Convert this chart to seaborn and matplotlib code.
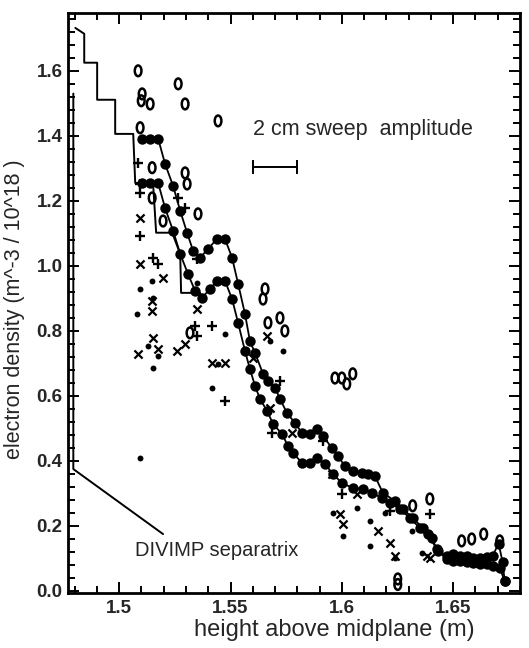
import matplotlib
matplotlib.use("Agg")
import matplotlib.pyplot as plt
import matplotlib.transforms as mtransforms
import seaborn as sns
from matplotlib.path import Path
from matplotlib.ticker import AutoMinorLocator, FixedLocator

# ---------- data ----------
upper_x = [1.5103, 1.5139, 1.5175, 1.5206, 1.5242, 1.5274, 1.5305, 1.5332, 1.5363, 1.5399,
           1.5439, 1.5475, 1.5507, 1.5534, 1.5565, 1.5587, 1.5610, 1.5646, 1.5668, 1.5700,
           1.5722, 1.5753, 1.5789, 1.5821, 1.5857, 1.5888, 1.5915, 1.5955, 1.5982, 1.6013,
           1.6049, 1.6090, 1.6117, 1.6148, 1.6184, 1.6238, 1.6274, 1.6318, 1.6363, 1.6404,
           1.6430, 1.6471, 1.6498, 1.6529, 1.6561, 1.6587, 1.6619, 1.6650, 1.6677, 1.6704,
           1.6722, 1.6731]
upper_y = [1.391, 1.391, 1.391, 1.314, 1.246, 1.169, 1.102, 1.046, 1.025, 1.052,
           1.083, 1.083, 1.025, 0.945, 0.852, 0.769, 0.732, 0.668, 0.646, 0.625,
           0.591, 0.548, 0.517, 0.486, 0.483, 0.498, 0.477, 0.440, 0.415, 0.385,
           0.369, 0.363, 0.360, 0.354, 0.302, 0.277, 0.252, 0.225, 0.194, 0.163,
           0.123, 0.108, 0.114, 0.108, 0.108, 0.102, 0.102, 0.105, 0.108, 0.146,
           0.088, 0.031]

lower_x = [1.5103, 1.5139, 1.5175, 1.5206, 1.5242, 1.5274, 1.5309, 1.5341, 1.5372, 1.5408,
           1.5439, 1.5475, 1.5507, 1.5534, 1.5565, 1.5587, 1.5610, 1.5632, 1.5664, 1.5691,
           1.5731, 1.5758, 1.5780, 1.5821, 1.5857, 1.5888, 1.5924, 1.5960, 1.6000, 1.6049,
           1.6094, 1.6135, 1.6179, 1.6215, 1.6260, 1.6305, 1.6350, 1.6386, 1.6426, 1.6471,
           1.6498, 1.6529, 1.6561, 1.6587, 1.6619, 1.6650, 1.6677, 1.6709, 1.6731]
lower_y = [1.255, 1.255, 1.255, 1.178, 1.108, 1.037, 0.975, 0.923, 0.902, 0.929,
           0.954, 0.954, 0.898, 0.825, 0.738, 0.683, 0.631, 0.591, 0.554, 0.514,
           0.483, 0.446, 0.425, 0.394, 0.394, 0.409, 0.391, 0.360, 0.332, 0.317,
           0.314, 0.302, 0.286, 0.271, 0.252, 0.225, 0.194, 0.175, 0.129, 0.098,
           0.092, 0.092, 0.089, 0.086, 0.083, 0.083, 0.077, 0.071, 0.031]

step_x = [1.4803, 1.4843, 1.4843, 1.4901, 1.4901, 1.4982, 1.4982, 1.5063, 1.5072, 1.5152,
          1.5166, 1.5238, 1.5274, 1.5278, 1.5363, 1.5372]
step_y = [1.732, 1.714, 1.625, 1.625, 1.511, 1.511, 1.406, 1.406, 1.255, 1.255,
          1.102, 1.102, 1.037, 0.917, 0.917, 0.902]

sep_x = [1.4794, 1.4794, 1.5197]
sep_y = [1.530, 0.375, 0.175]

circ_x = [1.5085, 1.5265, 1.5103, 1.5099, 1.5139, 1.5296, 1.5444, 1.5094, 1.5148, 1.5148,
          1.5197, 1.5296, 1.5305, 1.5354, 1.5318, 1.5655, 1.5646, 1.5668, 1.5722, 1.5744,
          1.5969, 1.6000, 1.6022, 1.6049, 1.6395, 1.6318, 1.6538, 1.6583, 1.6637, 1.6709,
          1.6251, 1.6251]
circ_y = [1.600, 1.560, 1.529, 1.508, 1.498, 1.498, 1.446, 1.425, 1.302, 1.209,
          1.138, 1.286, 1.252, 1.160, 0.794, 0.929, 0.898, 0.825, 0.840, 0.800,
          0.655, 0.655, 0.637, 0.668, 0.283, 0.262, 0.154, 0.160, 0.175, 0.154,
          0.037, 0.020]

plus_x = [1.5085, 1.5094, 1.5094, 1.5094, 1.5152, 1.5175, 1.5265, 1.5296, 1.5341, 1.5350,
          1.5417, 1.5350, 1.5722, 1.5475, 1.5686, 1.6000, 1.6215, 1.6395, 1.5915]
plus_y = [1.317, 1.252, 1.225, 1.092, 1.025, 1.006, 1.209, 1.178, 0.815, 0.785,
          0.815, 1.022, 0.646, 0.585, 0.486, 0.298, 0.246, 0.237, 0.462]

cross_x = [1.5094, 1.5094, 1.5197, 1.5148, 1.5148, 1.5152, 1.5175, 1.5085, 1.5260, 1.5296,
           1.5350, 1.5417, 1.5475, 1.5664, 1.5601, 1.5677, 1.5776, 1.5955, 1.5991, 1.6004,
           1.6067, 1.6161, 1.6215, 1.6238, 1.6381, 1.6395]
cross_y = [1.148, 1.006, 0.963, 0.892, 0.862, 0.778, 0.745, 0.729, 0.738, 0.760,
           0.868, 0.702, 0.702, 0.785, 0.717, 0.563, 0.486, 0.360, 0.237, 0.206,
           0.298, 0.185, 0.148, 0.108, 0.108, 0.102]

dot_x = [1.5094, 1.5081, 1.5148, 1.5152, 1.5130, 1.5175, 1.5152, 1.5350, 1.5475, 1.5444,
         1.5417, 1.5094, 1.5677, 1.5735, 1.5960, 1.6004, 1.6067, 1.6126, 1.6126, 1.6193,
         1.6238, 1.6314, 1.6359]
dot_y = [0.929, 0.852, 0.954, 0.902, 0.754, 0.723, 0.686, 0.948, 0.791, 0.698,
         0.625, 0.409, 0.769, 0.738, 0.240, 0.169, 0.255, 0.215, 0.138, 0.240,
         0.102, 0.185, 0.117]

sweep_center, sweep_half, sweep_level = 1.570, 0.010, 1.305

x_ticks = [1.5, 1.55, 1.6, 1.65]
x_labels = ["1.5", "1.55", "1.6", "1.65"]
y_ticks = [0.0, 0.2, 0.4, 0.6, 0.8, 1.0, 1.2, 1.4, 1.6]

# ---------- figure ----------
sns.set_style("ticks")
plt.rcParams["font.family"] = ["Liberation Sans", "DejaVu Sans"]

fig = plt.figure(figsize=(5.29, 6.48), dpi=100)
ax = fig.add_axes([0.1285, 0.085, 0.8545, 0.895])

line_kw = dict(sort=False, estimator=None, color="k", ax=ax)
sns.lineplot(x=step_x, y=step_y, lw=1.4, **line_kw)
sns.lineplot(x=sep_x, y=sep_y, lw=1.4, **line_kw)
for cx, cy in [(upper_x, upper_y), (lower_x, lower_y)]:
    sns.lineplot(x=cx, y=cy, lw=1.3, marker="o", markersize=7.5,
                 markeredgecolor="k", markeredgewidth=0, **line_kw)

oval = Path.unit_circle().transformed(mtransforms.Affine2D().scale(0.62, 1.0))
sns.scatterplot(x=circ_x, y=circ_y, marker=oval, s=60, facecolor="none",
                edgecolor="k", linewidth=1.8, ax=ax)
sns.scatterplot(x=plus_x, y=plus_y, marker="+", s=42, color="k", linewidth=1.7, ax=ax)
sns.scatterplot(x=cross_x, y=cross_y, marker="x", s=34, color="k", linewidth=1.6, ax=ax)
sns.scatterplot(x=dot_x, y=dot_y, marker="o", s=18, color="k", linewidth=0, ax=ax)

ax.errorbar(sweep_center, sweep_level, xerr=sweep_half, color="k", lw=1.4,
            capsize=5, capthick=1.4)
ax.text(1.5600, 1.42, "2 cm sweep  amplitude", fontsize=15.5, va="center", ha="left")
ax.text(1.5072, 0.126, "DIVIMP separatrix", fontsize=14.5, va="center", ha="left")

ax.set_xlim(1.477, 1.680)
ax.set_ylim(-0.006, 1.778)
ax.xaxis.set_major_locator(FixedLocator(x_ticks))
ax.set_xticklabels(x_labels)
ax.yaxis.set_major_locator(FixedLocator(y_ticks))
ax.set_yticklabels([f"{v:.1f}" for v in y_ticks])
ax.xaxis.set_minor_locator(AutoMinorLocator(5))
ax.yaxis.set_minor_locator(AutoMinorLocator(5))
ax.tick_params(which="both", direction="in", top=True, right=True, color="k", width=1.4)
ax.tick_params(which="major", length=8)
ax.tick_params(which="minor", length=5)
ax.tick_params(axis="x", pad=5)
ax.tick_params(axis="y", pad=4)
for lab in ax.get_xticklabels() + ax.get_yticklabels():
    lab.set_family(["Liberation Sans Narrow", "Liberation Sans"])
    lab.set_fontweight("bold")
    lab.set_fontsize(13.5)
for sp in ax.spines.values():
    sp.set_linewidth(2)
    sp.set_color("k")

ax.set_xlabel("height above midplane (m)", fontsize=17)
ax.set_ylabel("electron density (m^-3 / 10^18 )", fontsize=15.5)
ax.xaxis.set_label_coords(0.59, -0.045)
ax.yaxis.set_label_coords(-0.095, 0.49)

fig.savefig("out.png", dpi=100)
